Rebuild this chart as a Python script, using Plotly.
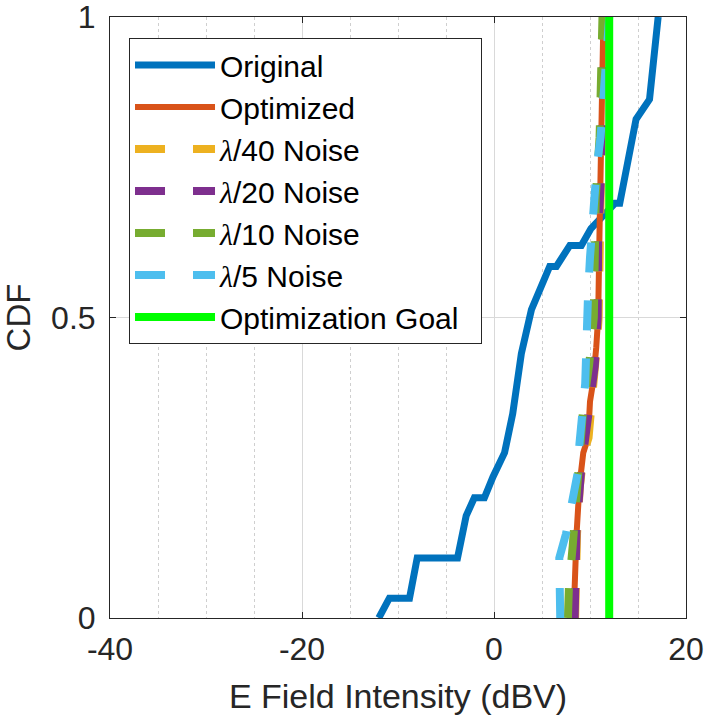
import plotly.graph_objects as go

# CDF samples: (E field in dBV, cumulative probability)
orig_x = [-12.0, -10.9, -8.8, -8.0, -3.8, -2.9, -2.05, -1.0, -0.1, 1.1, 1.95, 2.85, 3.9, 5.8, 6.5, 7.9, 9.1, 10.1, 12.6, 13.1, 14.8, 16.2, 17.1]
orig_y = [0.0, 0.033, 0.033, 0.1, 0.1, 0.17, 0.2, 0.2, 0.235, 0.275, 0.34, 0.44, 0.513, 0.585, 0.585, 0.62, 0.62, 0.648, 0.69, 0.69, 0.83, 0.863, 1.0]

opt_x = [8.4, 8.4, 8.6, 8.9, 9.3, 9.8, 10.0, 10.3, 10.65, 10.85, 11.0, 11.1, 11.2, 11.4]
opt_y = [0.0, 0.05, 0.14, 0.22, 0.275, 0.3, 0.36, 0.39, 0.45, 0.5, 0.65, 0.75, 0.86, 1.0]

n40_x = [8.45, 8.45, 8.65, 8.95, 9.35, 9.85, 10.05, 10.35, 10.7, 10.9, 11.05, 11.15, 11.25, 11.45]
n40_y = [0.0, 0.05, 0.14, 0.22, 0.275, 0.3, 0.36, 0.39, 0.45, 0.5, 0.65, 0.75, 0.86, 1.0]

n20_x = [8.4, 8.45, 8.6, 9.1, 9.6, 10.0, 10.5, 10.8, 10.85, 11.1, 11.2, 11.4]
n20_y = [0.0, 0.1, 0.15, 0.25, 0.32, 0.37, 0.42, 0.5, 0.63, 0.72, 0.85, 1.0]

n10_x = [7.7, 7.8, 8.2, 8.55, 9.0, 9.3, 9.9, 10.4, 10.5, 10.6, 11.0, 11.2, 11.3]
n10_y = [0.0, 0.05, 0.12, 0.2, 0.3, 0.35, 0.42, 0.5, 0.6, 0.7, 0.8, 0.92, 1.0]

n5_x = [6.9, 6.9, 6.8, 7.5, 8.3, 8.7, 8.9, 9.3, 9.5, 9.6, 9.6, 9.8, 10.0, 10.2, 10.4, 10.7, 11.1, 11.3, 11.5, 12.0]
n5_y = [0.0, 0.05, 0.1, 0.14, 0.2, 0.24, 0.29, 0.34, 0.39, 0.44, 0.49, 0.54, 0.6, 0.65, 0.7, 0.75, 0.8, 0.85, 0.92, 1.0]

goal_x = [12.0, 12.0]
goal_y = [0.0, 1.0]

x_ticks = [-40, -20, 0, 20]
y_ticks = [0, 0.5, 1]
y_tick_labels = ["0", "0.5", "1"]

LAM = "<span style=\"font-family:'Liberation Serif'\"><i>λ</i></span>"
NBSP = "\u00a0"

series = [
    ("Original", orig_x, orig_y, "#0072BD", 7, "solid"),
    ("Optimized", opt_x, opt_y, "#D95319", 6, "solid"),
    (LAM + "/40 Noise", n40_x, n40_y, "#EDB120", 8, "30px,28px"),
    (LAM + "/20 Noise", n20_x, n20_y, "#7E2F8E", 8, "30px,28px"),
    (LAM + "/10 Noise", n10_x, n10_y, "#77AC30", 8, "30px,28px"),
    (LAM + "/5 Noise", n5_x, n5_y, "#4DBEEE", 8, "30px,28px"),
    ("Optimization Goal" + NBSP * 2, goal_x, goal_y, "#00FF00", 8, "solid"),
]

fig = go.Figure()
for i, (name, xs, ys, color, w, dash) in enumerate(series):
    fig.add_trace(go.Scatter(
        x=xs, y=ys, mode="lines", name=name, legendgroup=str(i),
        line=dict(color=color, width=w, dash=dash),
    ))

axis_color = "#262626"
fig.update_layout(
    width=705, height=720,
    margin=dict(l=110, r=19, t=17, b=102),
    paper_bgcolor="white", plot_bgcolor="white",
    font=dict(family="Liberation Sans, Arial, sans-serif", size=31, color=axis_color),
    showlegend=True,
    legend=dict(
        x=0.033, y=0.965, xanchor="left", yanchor="top",
        bgcolor="white", bordercolor=axis_color, borderwidth=1,
        font=dict(size=30, color="black"),
        itemwidth=80, tracegroupgap=0,
    ),
    xaxis=dict(
        range=[-40, 20], tickvals=x_ticks, ticktext=[str(v) for v in x_ticks],
        showline=True, mirror="ticks", linecolor=axis_color, linewidth=1,
        ticks="inside", ticklen=6, tickcolor=axis_color, automargin=False,
        showgrid=True, gridcolor="#d9d9d9", gridwidth=1, zeroline=False,
        minor=dict(dtick=5, tick0=0, showgrid=True, griddash="dot", gridcolor="#cfcfcf", gridwidth=1),
        tickfont=dict(size=32, color=axis_color), ticklabelstandoff=3,
        ticklabeloverflow="allow",
        title=dict(text="E Field Intensity (dBV)", font=dict(size=34, color=axis_color), standoff=17),
    ),
    yaxis=dict(
        range=[0, 1], tickvals=y_ticks, ticktext=y_tick_labels,
        showline=True, mirror="ticks", linecolor=axis_color, linewidth=1,
        ticks="inside", ticklen=6, tickcolor=axis_color, automargin=False,
        showgrid=True, gridcolor="#d9d9d9", gridwidth=1, zeroline=False,
        tickfont=dict(size=32, color=axis_color), ticklabelstandoff=7,
        ticklabeloverflow="allow",
        title=dict(text="CDF", font=dict(size=33, color=axis_color), standoff=22),
    ),
)

fig.write_html("out.html")
